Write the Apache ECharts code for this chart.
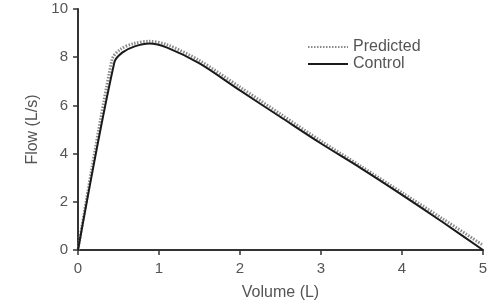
<!DOCTYPE html>
<html>
<head>
<meta charset="utf-8">
<script src="https://cdn.jsdelivr.net/npm/echarts@6/dist/echarts.min.js"></script>
<style>
html,body{margin:0;padding:0;background:#fff;}
#chart{width:500px;height:306px;}
</style>
</head>
<body>
<div id="chart"></div>
<script>
const xTicks = [0, 1, 2, 3, 4, 5];
const yTicks = [0, 2, 4, 6, 8, 10];
const predictedVolume = [0, 0.42, 0.52, 0.68, 0.88, 1.1, 1.5, 2, 2.5, 3, 3.5, 4, 4.5, 5];
const predictedFlow   = [0, 7.9, 8.32, 8.56, 8.66, 8.52, 7.86, 6.76, 5.64, 4.52, 3.46, 2.38, 1.3, 0.2];
const controlVolume = [0, 0.45, 0.55, 0.7, 0.88, 1.1, 1.5, 2, 2.5, 3, 3.5, 4, 4.5, 5];
const controlFlow   = [0, 7.8, 8.2, 8.45, 8.57, 8.4, 7.74, 6.62, 5.52, 4.42, 3.38, 2.29, 1.16, 0];

const font = 'Liberation Sans, Arial, sans-serif';
const chart = echarts.init(document.getElementById('chart'), null, {renderer: 'canvas'});
const pair = (xs, ys) => xs.map((x, i) => [x, ys[i]]);

chart.setOption({
  animation: false,
  backgroundColor: '#ffffff',
  grid: {left: 78, right: 17, top: 9, bottom: 54, containLabel: false},
  legend: {
    orient: 'vertical',
    left: 302,
    top: 34,
    itemWidth: 40,
    itemHeight: 14,
    itemGap: 1,
    data: ['Predicted', 'Control'],
    itemStyle: {color: 'rgba(0,0,0,0)', borderWidth: 0, opacity: 0},
    textStyle: {fontFamily: font, fontSize: 16, color: '#555', lineHeight: 16}
  },
  xAxis: {
    type: 'value', min: 0, max: 5, interval: 1,
    name: 'Volume (L)', nameLocation: 'middle', nameGap: 35,
    nameTextStyle: {fontFamily: font, fontSize: 16, color: '#555'},
    axisLine: {show: true, onZero: false, lineStyle: {color: '#333', width: 2}},
    axisTick: {show: true, length: 5, lineStyle: {color: '#333', width: 1.5}},
    axisLabel: {margin: 11, fontFamily: font, fontSize: 15, color: '#555',
      formatter: v => xTicks.includes(v) ? String(v) : ''},
    splitLine: {show: false}
  },
  yAxis: {
    type: 'value', min: 0, max: 10, interval: 2,
    name: 'Flow (L/s)', nameLocation: 'middle', nameGap: 28, nameRotate: 90,
    nameTextStyle: {fontFamily: font, fontSize: 16, color: '#555'},
    axisLine: {show: true, onZero: false, lineStyle: {color: '#333', width: 2}},
    axisTick: {show: true, length: 5, lineStyle: {color: '#333', width: 1.5}},
    axisLabel: {margin: 10, fontFamily: font, fontSize: 15, color: '#555',
      formatter: v => yTicks.includes(v) ? String(v) : ''},
    splitLine: {show: false}
  },
  series: [
    {
      name: 'Predicted', type: 'line', symbol: 'none', smooth: 0.3,
      data: pair(predictedVolume, predictedFlow),
      lineStyle: {color: '#888888', width: 3, type: [1.5, 1.5]},
      itemStyle: {color: '#888888'},
      z: 2
    },
    {
      name: 'Control', type: 'line', symbol: 'none', smooth: 0.3,
      data: pair(controlVolume, controlFlow),
      lineStyle: {color: '#1a1a1a', width: 2},
      itemStyle: {color: '#1a1a1a'},
      z: 3
    }
  ]
});
</script>
</body>
</html>
